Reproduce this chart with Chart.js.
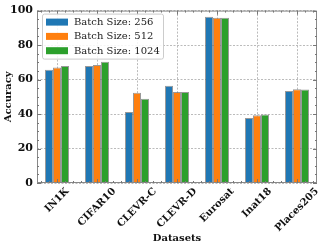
<!DOCTYPE html>
<html>
<head>
<meta charset="utf-8">
<script src="https://cdn.jsdelivr.net/npm/chart.js@4.4.1/dist/chart.umd.min.js"></script>
<style>
  html, body { margin: 0; padding: 0; background: #fff; }
  #wrap { width: 318px; height: 247px; }
</style>
</head>
<body>
<div id="wrap"><canvas id="chart" width="318" height="247"></canvas></div>
<script>
const datasetsNames = ["IN1K", "CIFAR10", "CLEVR-C", "CLEVR-D", "Eurosat", "Inat18", "Places205"];
const acc256 = [65.7, 67.8, 41.2, 56.4, 96.4, 37.7, 53.4];
const acc512 = [67.0, 68.5, 52.3, 52.8, 95.8, 39.3, 54.4];
const acc1024 = [67.8, 70.3, 48.8, 52.8, 95.8, 39.8, 54.2];
const yTicks = [0, 20, 40, 60, 80, 100];

const SERIF = "'DejaVu Serif', serif";

// matplotlib-ish frame with inward ticks
const framePlugin = {
  id: "frame",
  afterDraw(chart) {
    const { ctx, chartArea: a, scales } = chart;
    ctx.save();
    ctx.strokeStyle = "#888";
    ctx.lineWidth = 1;
    ctx.strokeRect(a.left + 0.5, a.top + 0.5, a.width - 1, a.height - 1);

    ctx.strokeStyle = "#777";
    ctx.beginPath();
    for (let v = 0; v <= 100; v += 5) {
      const y = Math.round(scales.y.getPixelForValue(v)) + 0.5;
      const len = v % 20 === 0 ? 4 : 2;
      ctx.moveTo(a.left, y); ctx.lineTo(a.left + len, y);
      ctx.moveTo(a.right, y); ctx.lineTo(a.right - len, y);
    }
    const n = datasetsNames.length;
    for (let k = -2; k <= 5 * (n - 1) + 2; k++) {
      const x = Math.round(scales.x.getPixelForValue(k / 5)) + 0.5;
      const len = k % 5 === 0 ? 4 : 2;
      ctx.moveTo(x, a.top); ctx.lineTo(x, a.top + len);
      ctx.moveTo(x, a.bottom); ctx.lineTo(x, a.bottom - len);
    }
    ctx.stroke();

    // rotated category labels, box centred under the tick
    ctx.font = "bold 10px " + SERIF;
    ctx.fillStyle = "#111";
    ctx.textAlign = "center";
    ctx.textBaseline = "middle";
    const c = Math.SQRT1_2;
    chart.data.labels.forEach((lab, i) => {
      const w = ctx.measureText(lab).width;
      const bh = (w + 8) * c;
      const x = scales.x.getPixelForValue(i);
      const y = a.bottom + 4 + bh / 2;
      ctx.save();
      ctx.translate(x, y);
      ctx.rotate(-Math.PI / 4);
      ctx.fillText(lab, 0, 0);
      ctx.restore();
    });
    ctx.restore();
  }
};

// legend box in upper left, drawn from the chart's datasets
const legendPlugin = {
  id: "boxLegend",
  afterDraw(chart) {
    const { ctx, chartArea: a } = chart;
    const x0 = a.left + 5, y0 = a.top + 3;
    const w = 121, h = 45;
    ctx.save();
    ctx.fillStyle = "rgba(255,255,255,0.85)";
    ctx.strokeStyle = "#ccc";
    ctx.lineWidth = 1;
    ctx.beginPath();
    ctx.roundRect(x0 + 0.5, y0 + 0.5, w, h, 2);
    ctx.fill();
    ctx.stroke();
    ctx.font = "10px " + SERIF;
    ctx.textBaseline = "middle";
    ctx.textAlign = "left";
    chart.data.datasets.forEach((ds, i) => {
      const cy = y0 + 8.5 + i * 14.3;
      ctx.fillStyle = ds.backgroundColor;
      ctx.fillRect(x0 + 4, cy - 3.5, 22, 7);
      ctx.fillStyle = "#222";
      ctx.fillText(ds.label, x0 + 32, cy + 0.5);
    });
    ctx.restore();
  }
};

new Chart(document.getElementById("chart"), {
  type: "bar",
  data: {
    labels: datasetsNames,
    datasets: [
      { label: "Batch Size: 256", data: acc256, backgroundColor: "#1f77b4" },
      { label: "Batch Size: 512", data: acc512, backgroundColor: "#ff7f0e" },
      { label: "Batch Size: 1024", data: acc1024, backgroundColor: "#2ca02c" }
    ].map(d => Object.assign(d, { borderColor: "rgba(110,110,110,0.7)", borderWidth: 1, borderSkipped: "bottom" }))
  },
  options: {
    responsive: false,
    animation: false,
    devicePixelRatio: 1,
    layout: { padding: { top: 4, right: 1, left: 0, bottom: 0 } },
    plugins: { legend: { display: false }, tooltip: { enabled: false } },
    datasets: { bar: { categoryPercentage: 0.6, barPercentage: 1.0 } },
    scales: {
      x: {
        grid: { color: "#bbb", drawTicks: false, offset: false },
        border: { display: false, dash: [2, 1.5] },
        ticks: { display: false },
        title: {
          display: true, text: "Datasets", color: "#111",
          font: { family: SERIF, size: 10, weight: "bold" }, padding: { top: 0, bottom: 3 }
        },
        afterFit(s) { s.height = 64; }
      },
      y: {
        min: 0, max: 100,
        afterBuildTicks(s) { s.ticks = yTicks.map(v => ({ value: v })); },
        grid: { color: "#bbb", drawTicks: false },
        border: { display: false, dash: [2, 1.5] },
        ticks: {
          color: "#111", padding: 4,
          font: { family: SERIF, size: 11, weight: "bold" }
        },
        title: {
          display: true, text: "Accuracy", color: "#111",
          font: { family: SERIF, size: 10, weight: "bold" }, padding: { top: 2, bottom: 0 }
        },
        afterFit(s) { s.width = 37; }
      }
    }
  },
  plugins: [framePlugin, legendPlugin]
});
</script>
</body>
</html>
